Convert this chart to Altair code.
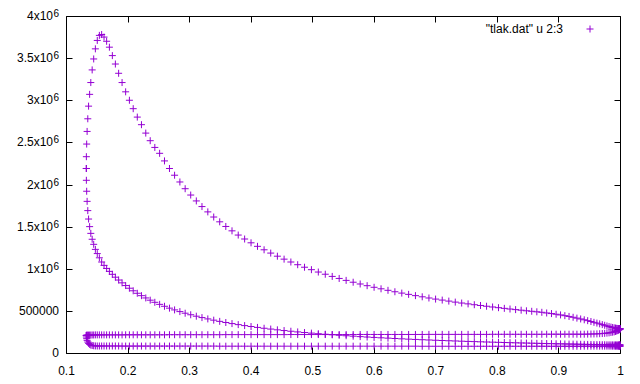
import altair as alt
import pandas as pd

# Volume (normalised) sampled along one piston stroke, from TDC to BDC
stroke_volume = [
    0.1330, 0.1331, 0.1336, 0.1343, 0.1354, 0.1367, 0.1384, 0.1403, 0.1425, 0.1450,
    0.1477, 0.1508, 0.1542, 0.1579, 0.1618, 0.1660, 0.1705, 0.1753, 0.1802, 0.1855,
    0.1911, 0.1969, 0.2030, 0.2092, 0.2158, 0.2226, 0.2296, 0.2368, 0.2443, 0.2521,
    0.2600, 0.2681, 0.2764, 0.2850, 0.2936, 0.3026, 0.3117, 0.3209, 0.3304, 0.3400,
    0.3497, 0.3596, 0.3697, 0.3798, 0.3902, 0.4006, 0.4111, 0.4218, 0.4326, 0.4434,
    0.4543, 0.4653, 0.4764, 0.4875, 0.4987, 0.5099, 0.5212, 0.5325, 0.5438, 0.5551,
    0.5665, 0.5779, 0.5892, 0.6005, 0.6118, 0.6231, 0.6343, 0.6455, 0.6566, 0.6677,
    0.6787, 0.6896, 0.7004, 0.7112, 0.7219, 0.7324, 0.7428, 0.7532, 0.7633, 0.7734,
    0.7832, 0.7930, 0.8026, 0.8121, 0.8213, 0.8304, 0.8394, 0.8480, 0.8566, 0.8649,
    0.8730, 0.8809, 0.8887, 0.8962, 0.9034, 0.9104, 0.9172, 0.9238, 0.9300, 0.9361,
    0.9419, 0.9475, 0.9528, 0.9577, 0.9625, 0.9670, 0.9712, 0.9751, 0.9788, 0.9822,
    0.9853, 0.9880, 0.9905, 0.9927, 0.9946, 0.9963, 0.9976, 0.9987, 0.9994, 0.9999,
    1.0000,
]

# Pressure during expansion (TDC -> BDC)
expansion_pressure = [
    2190000, 2330000, 2480000, 2630000, 2780000, 2930000, 3070000, 3210000, 3360000, 3490000,
    3610000, 3710000, 3770000, 3780000, 3750000, 3700000, 3630000, 3530000, 3430000, 3320000,
    3210000, 3100000, 3000000, 2900000, 2800000, 2710000, 2610000, 2520000, 2440000, 2370000,
    2280000, 2190000, 2110000, 2030000, 1950000, 1875000, 1805000, 1738000, 1675000, 1614000,
    1557000, 1502000, 1450000, 1400000, 1353000, 1308000, 1266000, 1225000, 1186000, 1149000,
    1114000, 1080000, 1048000, 1018000, 989000, 961000, 935000, 909000, 885000, 862000,
    840000, 819000, 799000, 780000, 762000, 744000, 727000, 711000, 696000, 681000,
    667000, 653000, 640000, 628000, 616000, 604000, 593000, 583000, 573000, 564000,
    555000, 546000, 538000, 530000, 522000, 515000, 508000, 501000, 495000, 489000,
    483000, 475000, 468000, 460000, 452000, 443000, 434000, 424000, 414000, 404000,
    394000, 384000, 374000, 364000, 355000, 346000, 337000, 329000, 321000, 314000,
    308000, 303000, 299000, 296000, 293000, 291000, 290000, 289000, 288000, 288000,
    287000,
]

# Pressure during exhaust (BDC -> TDC)
exhaust_pressure = [
    287000, 284000, 280000, 276000, 271000, 266000, 261000, 256000, 251000, 247000,
    243000, 239000, 236000, 233000, 231000, 229000, 227000, 226000, 225000, 224000,
    223000, 223000, 223000, 223000, 223000, 223000, 223000, 223000, 223000, 223000,
    222000, 222000, 222000, 222000, 222000, 222000, 222000, 222000, 222000, 222000,
    221000, 221000, 221000, 221000, 221000, 221000, 221000, 221000, 221000, 221000,
    220000, 220000, 220000, 220000, 220000, 220000, 220000, 220000, 220000, 220000,
    219000, 219000, 219000, 219000, 219000, 219000, 219000, 219000, 219000, 219000,
    218000, 218000, 218000, 218000, 218000, 218000, 218000, 218000, 218000, 218000,
    217000, 217000, 217000, 217000, 217000, 217000, 217000, 217000, 217000, 217000,
    216000, 216000, 216000, 216000, 216000, 216000, 216000, 216000, 216000, 216000,
    215000, 215000, 215000, 215000, 215000, 215000, 215000, 215000, 215000, 215000,
    215000, 214000, 214000, 213000, 213000, 212000, 212000, 211000, 210000, 209000,
    208000,
]

# Pressure during intake (TDC -> BDC)
intake_pressure = [
    208000, 190000, 170000, 150000, 130000, 114000, 102000, 94000, 89000, 86000,
    84000, 83000, 83000, 83000, 83000, 83000, 83000, 83000, 83000, 83000,
    82000, 82000, 82000, 82000, 82000, 82000, 82000, 82000, 82000, 82000,
    82000, 82000, 82000, 82000, 82000, 82000, 82000, 82000, 82000, 82000,
    81000, 81000, 81000, 81000, 81000, 81000, 81000, 81000, 81000, 81000,
    81000, 81000, 81000, 81000, 81000, 81000, 81000, 81000, 81000, 81000,
    81000, 81000, 81000, 81000, 81000, 81000, 81000, 81000, 81000, 81000,
    80000, 80000, 80000, 80000, 80000, 80000, 80000, 80000, 80000, 80000,
    80000, 80000, 80000, 80000, 80000, 80000, 80000, 80000, 80000, 80000,
    80000, 80000, 80000, 80000, 80000, 80000, 80000, 80000, 80000, 80000,
    81000, 81000, 81000, 81000, 81000, 81000, 81000, 81000, 81000, 81000,
    81000, 81000, 81000, 81000, 81000, 81000, 81000, 81000, 81000, 81000,
    81000,
]

# Pressure during compression (BDC -> TDC), combustion starting near the end
compression_pressure = [
    95000, 95000, 95100, 95200, 95300, 95500, 95700, 95900, 96200, 96500,
    96900, 97300, 97700, 98200, 98700, 99300, 99900, 100500, 101200, 101900,
    102700, 103500, 104400, 105400, 106300, 107400, 108500, 109600, 110800, 112100,
    113400, 114800, 116300, 117800, 119400, 121100, 122800, 124600, 126600, 128600,
    130700, 132800, 135100, 137500, 140000, 142700, 145400, 148200, 151200, 154400,
    157600, 161000, 164500, 168200, 172100, 176200, 180400, 184900, 189600, 194400,
    199600, 204900, 210500, 216400, 222600, 229000, 235800, 242900, 250300, 258200,
    266400, 275000, 284100, 293600, 303600, 314200, 325200, 336900, 349100, 362000,
    375400, 389700, 404500, 420300, 436800, 454000, 472300, 491300, 511500, 532400,
    554600, 577500, 601800, 627000, 653400, 680600, 709000, 738500, 768900, 800500,
    832700, 866000, 899700, 933800, 968800, 1003600, 1040000, 1080000, 1130000, 1180000,
    1230000, 1290000, 1350000, 1420000, 1500000, 1590000, 1690000, 1800000, 1920000, 2050000,
    2190000,
]

x_ticks = [0.1, 0.2, 0.3, 0.4, 0.5, 0.6, 0.7, 0.8, 0.9, 1.0]
y_ticks = [0, 500000, 1000000, 1500000, 2000000, 2500000, 3000000, 3500000, 4000000]
y_tick_base = ["0", "500000", "1x10", "1.5x10", "2x10", "2.5x10", "3x10", "3.5x10", "4x10"]
y_tick_sup = ["", "", "6", "6", "6", "6", "6", "6", "6"]
legend_label = '"tlak.dat" u 2:3'

rows = []
rows += list(zip(stroke_volume, expansion_pressure))
rows += list(zip(stroke_volume[::-1], exhaust_pressure))
rows += list(zip(stroke_volume, intake_pressure))
rows += list(zip(stroke_volume[::-1], compression_pressure))
df = pd.DataFrame(rows, columns=["volume", "pressure"])

ytick_df = pd.DataFrame({"tick": y_ticks, "base": y_tick_base, "sup": y_tick_sup})

PLUS = "M-1,0L1,0M0,-1L0,1"
PURPLE = "#9400D3"
FONT = "Liberation Sans"

xscale = alt.Scale(domain=[0.1, 1.0], nice=False, zero=False)
yscale = alt.Scale(domain=[0, 4000000], nice=False, zero=False)

common_axis = dict(grid=False, domain=False, offset=-6, tickSize=6, tickColor="black",
                   tickWidth=1, title=None)

points = alt.Chart(df).mark_point(
    shape=PLUS, size=49, filled=False, strokeWidth=1, color=PURPLE, opacity=1
).encode(
    x=alt.X("volume:Q", scale=xscale,
            axis=alt.Axis(orient="bottom", values=x_ticks, format=".1~f", labelPadding=12,
                          labelFlush=False, labelOverlap=False, **common_axis)),
    y=alt.Y("pressure:Q", scale=yscale,
            axis=alt.Axis(orient="left", values=y_ticks, labels=False, **common_axis)),
)

mirror = alt.Chart(df).mark_point(size=1, opacity=0).encode(
    x=alt.X("volume:Q", scale=xscale,
            axis=alt.Axis(orient="top", values=x_ticks, labels=False, **common_axis)),
    y=alt.Y("pressure:Q", scale=yscale,
            axis=alt.Axis(orient="right", values=y_ticks, labels=False, **common_axis)),
)

# y tick labels with gnuplot-style superscript exponent
ylabel_base = alt.Chart(ytick_df).transform_calculate(
    px="datum.sup == '' ? -7 : -13"
).mark_text(
    align="right", baseline="middle", font=FONT, fontSize=12, color="black"
).encode(
    x=alt.X("px:Q", scale=None),
    y=alt.Y("tick:Q", scale=yscale, axis=None),
    text="base:N",
)
ylabel_sup = alt.Chart(ytick_df).transform_filter(
    "datum.sup != ''"
).mark_text(
    align="right", baseline="middle", font=FONT, fontSize=10, color="black", dy=-2
).encode(
    x=alt.value(-7),
    y=alt.Y("tick:Q", scale=yscale, axis=None),
    text="sup:N",
)

legend_df = pd.DataFrame({"label": [legend_label]})
legend_text = alt.Chart(legend_df).mark_text(
    align="right", baseline="middle", font=FONT, fontSize=12, color="black"
).encode(x=alt.value(497), y=alt.value(13), text="label:N")
legend_mark = alt.Chart(legend_df).mark_point(
    shape=PLUS, size=49, filled=False, strokeWidth=1, color=PURPLE, opacity=1
).encode(x=alt.value(524), y=alt.value(13))

chart = (
    alt.layer(mirror, points, ylabel_base, ylabel_sup, legend_text, legend_mark)
    .resolve_axis(x="independent", y="independent")
    .properties(
        width=554,
        height=337,
        autosize=alt.AutoSizeParams(type="none"),
        padding={"left": 58, "top": 8, "right": 12, "bottom": 23},
        background="white",
    )
    .configure_view(stroke="black", strokeWidth=1)
    .configure_axis(labelFont=FONT, labelFontSize=12, labelColor="black")
)

chart.save("out.html", embed_options={"renderer": "svg", "actions": False})
